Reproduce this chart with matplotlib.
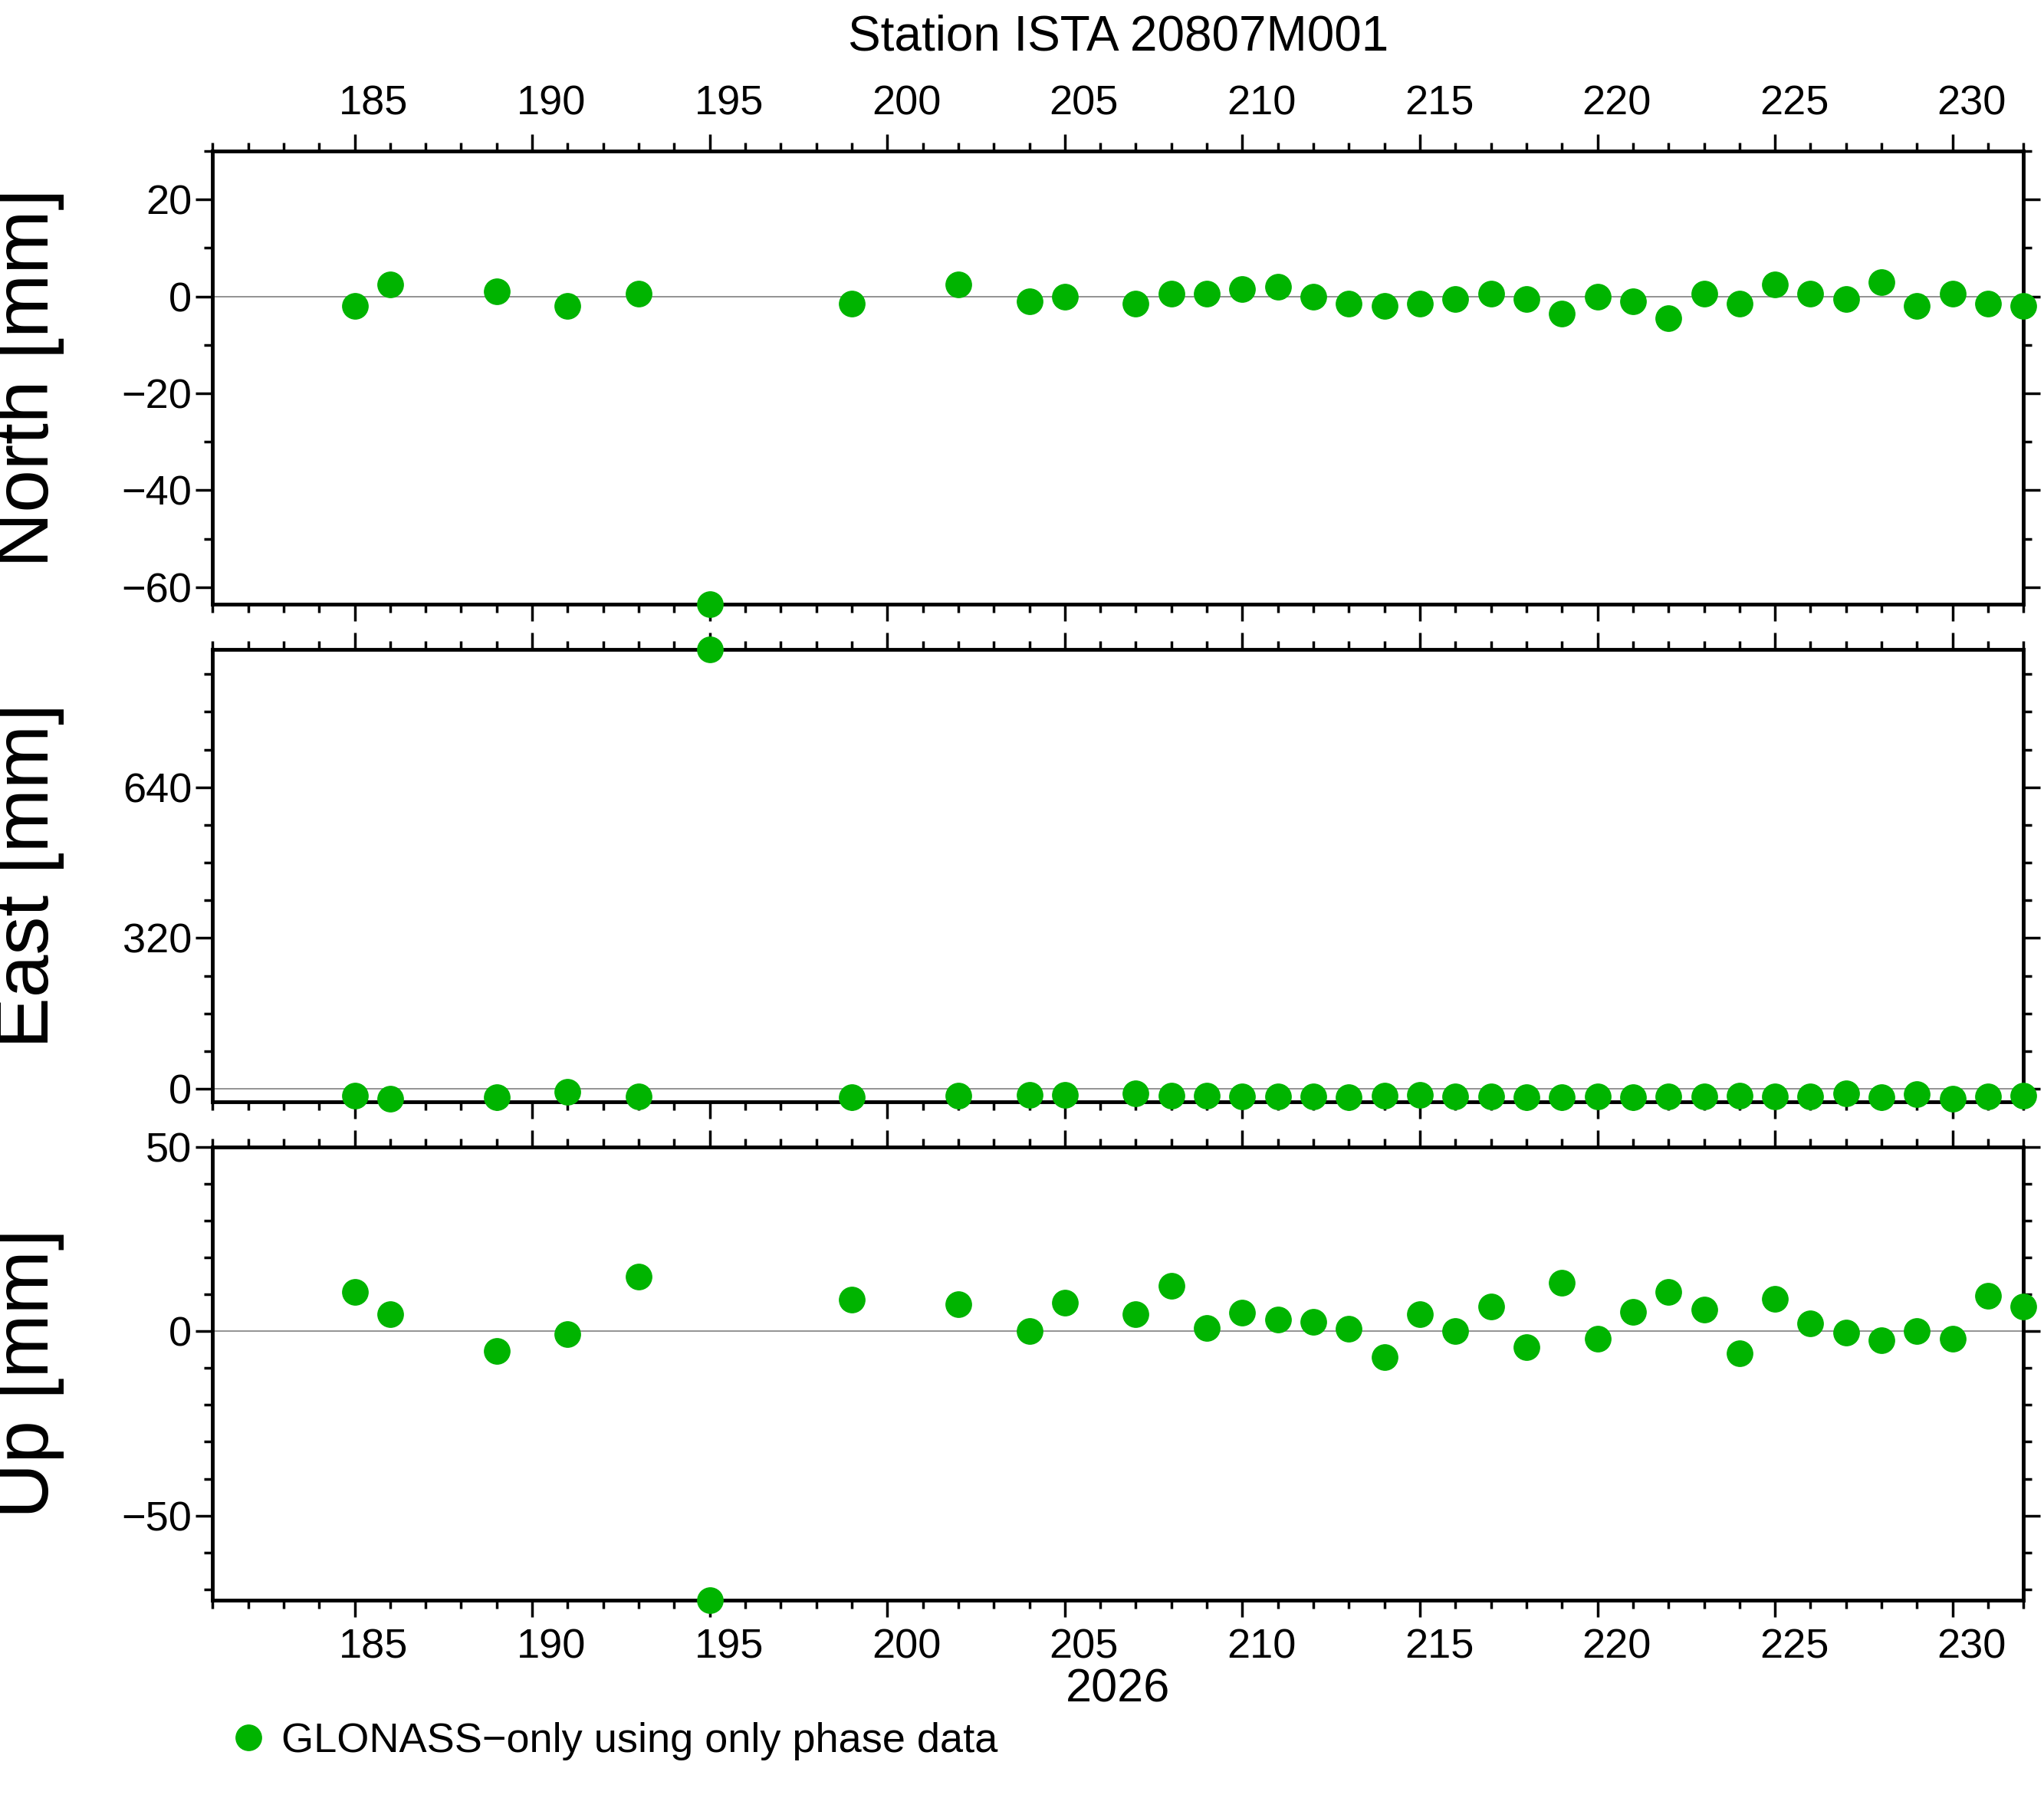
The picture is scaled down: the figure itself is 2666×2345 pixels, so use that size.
import matplotlib
matplotlib.use("Agg")
import matplotlib.pyplot as plt
import matplotlib.transforms as mtransforms
from matplotlib.lines import Line2D
from matplotlib.ticker import MultipleLocator

plt.rcParams["font.family"] = ["Liberation Sans", "DejaVu Sans"]

days = [185, 186, 189, 191, 193, 195, 199, 202, 204, 205, 207, 208, 209, 210, 211, 212,
        213, 214, 215, 216, 217, 218, 219, 220, 221, 222, 223, 224, 225, 226, 227, 228,
        229, 230, 231, 232]
north = [-2, 2.5, 1, -2, 0.5, -63.5, -1.5, 2.5, -1, 0, -1.5, 0.5, 0.5, 1.5, 2, 0,
         -1.5, -2, -1.5, -0.5, 0.5, -0.5, -3.5, 0, -1, -4.5, 0.5, -1.5, 2.5, 0.5, -0.5, 3,
         -2, 0.5, -1.5, -2]
east = [-15, -20, -18, -6, -16, 933, -18, -15, -12, -12, -10, -14, -15, -16, -16, -16,
        -17, -14, -13, -16, -16, -17, -17, -16, -17, -16, -16, -15, -16, -16, -10, -17,
        -11, -20, -16, -15]
up = [10.6, 4.6, -5.3, -0.7, 14.9, -73, 8.5, 7.4, 0, 7.8, 4.6, 12.4, 1, 5, 3.2, 2.5,
      0.7, -7.1, 4.6, 0, 6.7, -4.3, 13.1, -2.1, 5.3, 10.6, 6, -6, 8.9, 2.1, -0.4, -2.5,
      0, -2.1, 9.6, 6.7]

panels = [
    ("North [mm]", north, (-63.5, 30), 20, 10),
    ("East [mm]", east, (-28, 933), 320, 80),
    ("Up [mm]", up, (-73, 50), 50, 10),
]
boxes = [(0.664, 0.916), (0.387, 0.639), (0.110, 0.362)]

green = "#00b400"
fig = plt.figure(figsize=(26.66, 23.45), dpi=100)
shift = mtransforms.ScaledTranslation(25 / 100, 0, fig.dpi_scale_trans)

for i, ((label, vals, ylim, major, minor), (b, t)) in enumerate(zip(panels, boxes)):
    ax = fig.add_axes([0.104, b, 0.886, t - b])
    ax.axhline(0, color="#808080", lw=1.2, zorder=1)
    ax.plot(days, vals, "o", color=green, ms=24, clip_on=False, zorder=3)
    ax.set_xlim(181, 232)
    ax.set_ylim(*ylim)
    ax.xaxis.set_major_locator(MultipleLocator(5))
    ax.xaxis.set_minor_locator(MultipleLocator(1))
    ax.yaxis.set_major_locator(MultipleLocator(major))
    ax.yaxis.set_minor_locator(MultipleLocator(minor))
    ax.tick_params(which="both", direction="out", top=True, right=True,
                   labelsize=39, width=2.5)
    ax.tick_params(which="major", length=16)
    ax.tick_params(which="minor", length=8)
    ax.tick_params(axis="x", labeltop=(i == 0), labelbottom=(i == 2), pad=10)
    for s in ax.spines.values():
        s.set_linewidth(3.5)
    ax.set_ylabel(label, fontsize=72)
    ax.yaxis.set_label_coords(-0.082, 0.5)
    for lab in ax.get_xticklabels():
        lab.set_transform(lab.get_transform() + shift)
    if i == 0:
        ax.set_title("Station ISTA 20807M001", fontsize=46, pad=95)
    if i == 2:
        ax.set_xlabel("2026", fontsize=44, labelpad=2)

handle = Line2D([], [], marker="o", ls="", color=green, ms=24)
fig.legend(handles=[handle], labels=["GLONASS\u2212only using only phase data"],
           loc="lower left", bbox_to_anchor=(0.093, 0.0), frameon=False,
           fontsize=39, handletextpad=0.3, handlelength=1.0)

fig.savefig("out.png", dpi=100)
